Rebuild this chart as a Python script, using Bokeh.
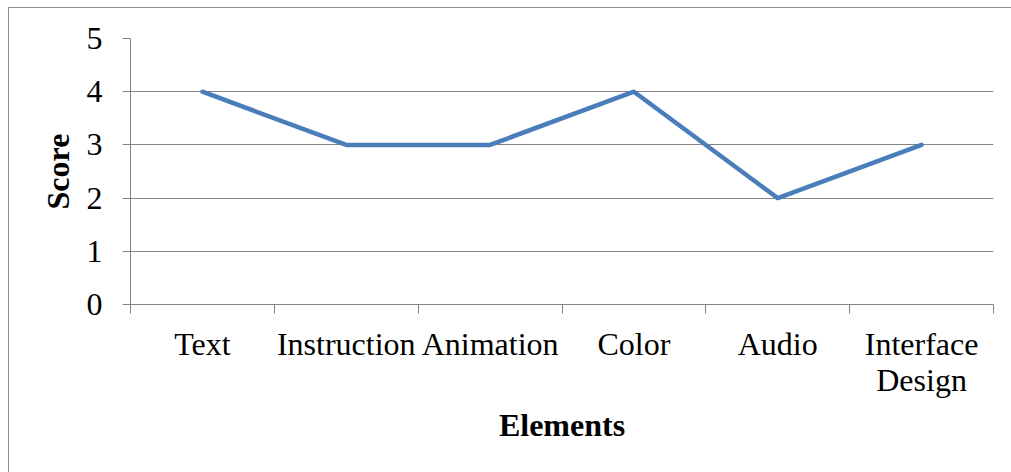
from bokeh.plotting import figure
from bokeh.models import Range1d, FixedTicker, InlineStyleSheet
from bokeh.embed import file_html
from bokeh.resources import INLINE

# Chart data
categories = ["Text", "Instruction", "Animation", "Color", "Audio", "Interface\nDesign"]
scores = [4, 3, 3, 4, 2, 3]
y_ticks = [0, 1, 2, 3, 4, 5]

FONT = "Liberation Serif"
GRID = "#848484"

xs = list(range(len(categories)))

p = figure(
    width=1011, height=472,
    x_range=Range1d(-0.5, len(categories) - 0.5),
    y_range=Range1d(0, 5),
    output_backend="svg", toolbar_location=None,
    min_border_left=130, min_border_right=18,
    min_border_top=38, min_border_bottom=168,
)
p.outline_line_color = None
p.background_fill_color = "white"
p.border_fill_color = "white"

# Chart-area border (left and top edges fall inside the page)
p.stylesheets = [InlineStyleSheet(css="""
:host { position: relative; }
:host::after {
  content: "";
  position: absolute;
  left: 8px; top: 7px; right: 0; bottom: 0;
  border-left: 1px solid #8c8c8c;
  border-top: 1px solid #8c8c8c;
  pointer-events: none;
}
""")]

# Gridlines: horizontal only
p.xgrid.visible = False
p.ygrid.ticker = FixedTicker(ticks=y_ticks)
p.ygrid.grid_line_color = GRID
p.ygrid.grid_line_width = 1

# Y axis
ya = p.yaxis[0]
ya.ticker = FixedTicker(ticks=y_ticks)
ya.axis_line_color = GRID
ya.major_tick_line_color = GRID
ya.major_tick_out = 8
ya.major_tick_in = 0
ya.minor_tick_line_color = None
ya.major_label_text_font = FONT
ya.major_label_text_font_size = "32px"
ya.major_label_text_color = "black"
ya.major_label_standoff = 20
ya.axis_label = "Score"
ya.axis_label_text_font = FONT
ya.axis_label_text_font_size = "32px"
ya.axis_label_text_font_style = "bold"
ya.axis_label_text_color = "black"
ya.axis_label_standoff = 8

# X axis: labels at category centres, ticks at category boundaries
xa = p.xaxis[0]
bounds = [i - 0.5 for i in range(len(categories) + 1)]
xa.ticker = FixedTicker(ticks=xs, minor_ticks=bounds)
xa.major_label_overrides = {i: c for i, c in zip(xs, categories)}
xa.axis_line_color = GRID
xa.major_tick_line_color = None
xa.major_tick_out = 0
xa.major_tick_in = 0
xa.minor_tick_line_color = GRID
xa.minor_tick_out = 9
xa.minor_tick_in = 0
xa.major_label_text_font = FONT
xa.major_label_text_font_size = "32px"
xa.major_label_text_color = "black"
xa.major_label_text_line_height = 1.0
xa.major_label_standoff = 12
xa.axis_label = "Elements"
xa.axis_label_text_font = FONT
xa.axis_label_text_font_size = "32px"
xa.axis_label_text_font_style = "bold"
xa.axis_label_text_color = "black"
xa.axis_label_standoff = 6

# Score line
p.line(xs, scores, line_color="#4A7EBB", line_width=4.5,
       line_join="round", line_cap="round")

open("out.html", "w").write(file_html(p, INLINE))
